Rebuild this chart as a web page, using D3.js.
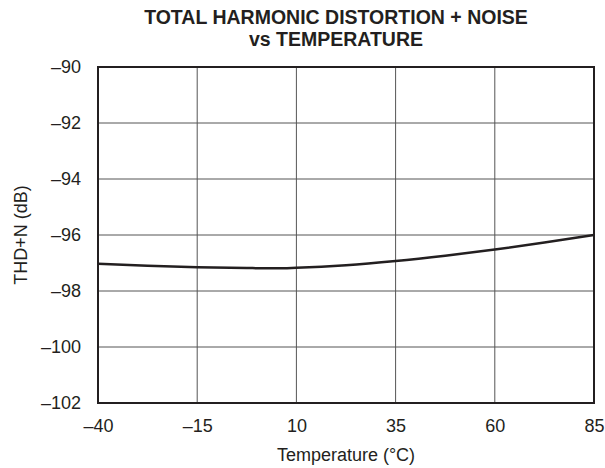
<!DOCTYPE html>
<html>
<head>
<meta charset="utf-8">
<script src="https://cdn.jsdelivr.net/npm/d3@7"></script>
<style>
  body { margin: 0; background: #fff; }
  text { font-family: "Liberation Sans", Arial, sans-serif; fill: #231f20; }
</style>
</head>
<body>
<script>
const temps = [-40, -27.5, -15, -2.5, 5, 10, 22.5, 35, 47.5, 60, 72.5, 85];
const thdn = [-97.03, -97.1, -97.15, -97.18, -97.19, -97.17, -97.08, -96.93, -96.74, -96.52, -96.27, -96.0];
const xTicks = [-40, -15, 10, 35, 60, 85];
const yTicks = [-90, -92, -94, -96, -98, -100, -102];

const W = 605, H = 468;
const margin = { top: 67, right: 11, bottom: 65, left: 98 };
const width = W - margin.left - margin.right;
const height = H - margin.top - margin.bottom;

const svg = d3.select("body").append("svg").attr("width", W).attr("height", H);

svg.append("text").attr("x", 336).attr("y", 24)
  .attr("text-anchor", "middle").attr("font-size", "19.5px").attr("font-weight", "bold")
  .text("TOTAL HARMONIC DISTORTION + NOISE");
svg.append("text").attr("x", 336).attr("y", 46)
  .attr("text-anchor", "middle").attr("font-size", "19.5px").attr("font-weight", "bold")
  .text("vs TEMPERATURE");

const g = svg.append("g").attr("transform", `translate(${margin.left},${margin.top})`);

const x = d3.scaleLinear().domain([-40, 85]).range([0, width]);
const y = d3.scaleLinear().domain([-102, -90]).range([height, 0]);

const fmt = (d) => (d < 0 ? "\u2013" + Math.abs(d) : String(d));

// grid
g.selectAll(".vg").data(xTicks.slice(1, -1)).enter().append("line")
  .attr("x1", (d) => x(d)).attr("x2", (d) => x(d))
  .attr("y1", 0).attr("y2", height)
  .attr("stroke", "#555").attr("stroke-width", 1);
g.selectAll(".hg").data(yTicks.slice(1, -1)).enter().append("line")
  .attr("x1", 0).attr("x2", width)
  .attr("y1", (d) => y(d)).attr("y2", (d) => y(d))
  .attr("stroke", "#555").attr("stroke-width", 1);

// tick labels
const xAxis = g.append("g").attr("transform", `translate(0,${height})`)
  .call(d3.axisBottom(x).tickValues(xTicks).tickFormat(fmt).tickSize(0).tickPadding(16));
const yAxis = g.append("g")
  .call(d3.axisLeft(y).tickValues(yTicks).tickFormat(fmt).tickSize(0).tickPadding(17));
[xAxis, yAxis].forEach((a) => {
  a.select(".domain").remove();
  a.selectAll("text").attr("font-size", "18px").attr("fill", "#231f20")
    .attr("font-family", "Liberation Sans, Arial, sans-serif");
});

// curve
const line = d3.line().x((d, i) => x(temps[i])).y((d) => y(d)).curve(d3.curveMonotoneX);
g.append("path").datum(thdn).attr("d", line)
  .attr("fill", "none").attr("stroke", "#231f20").attr("stroke-width", 2.5);

// frame
g.append("rect").attr("width", width).attr("height", height)
  .attr("fill", "none").attr("stroke", "#231f20").attr("stroke-width", 2);

svg.append("text").attr("x", 346).attr("y", 461)
  .attr("text-anchor", "middle").attr("font-size", "18px")
  .text("Temperature (\u00b0C)");
svg.append("text").attr("transform", `translate(27,${margin.top + height / 2}) rotate(-90)`)
  .attr("text-anchor", "middle").attr("font-size", "18px")
  .text("THD+N (dB)");
</script>
</body>
</html>
